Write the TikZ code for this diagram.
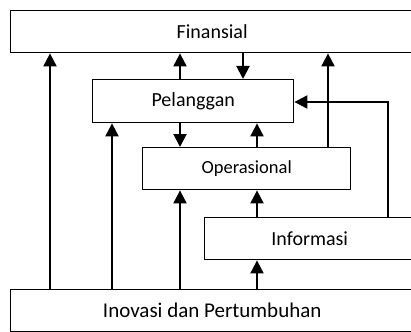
\documentclass[tikz,border=0pt]{standalone}
\usepackage{fontspec}
\setmainfont{Carlito}
\usetikzlibrary{arrows.meta}
\begin{document}
\begin{tikzpicture}[x=1pt,y=-1pt,
  boxstyle/.style={draw, line width=1.4pt, anchor=north west, inner sep=0pt, font=\fontsize{20}{24}\selectfont},
  arr/.style={line width=2pt, -{Triangle[length=13pt,width=13pt]}}]
\useasboundingbox (0,0) rectangle (411,331);
\clip (0,0) rectangle (411,331);
\node[boxstyle, minimum width=403pt, minimum height=42pt] (fin) at (10,10) {Finansial};
\node[boxstyle, minimum width=201pt, minimum height=43pt] (pel) at (92,79) {Pelanggan};
\node[boxstyle, minimum width=208pt, minimum height=42pt, font=\fontsize{18.5}{22}\selectfont] (ops) at (142,147) {Operasional};
\node[boxstyle, minimum width=210pt, minimum height=42pt] (inf) at (204,217) {Informasi};
\node[boxstyle, minimum width=403pt, minimum height=42pt, font=\fontsize{21}{25}\selectfont] (ino) at (10,289) {Inovasi dan Pertumbuhan};
% connectors
\draw[arr] (ino.north -| 50,0) -- (fin.south -| 50,0);
\draw[arr] (pel.north -| 180,0) -- (fin.south -| 180,0);
\draw[arr] (fin.south -| 243,0) -- (pel.north -| 243,0);
\draw[arr] (ops.north -| 328,0) -- (fin.south -| 328,0);
\coordinate (bend) at (388,102);
\draw[arr] (inf.north -| bend) -- (bend) -- (pel.east |- bend);
\draw[arr] (ino.north -| 112,0) -- (pel.south -| 112,0);
\draw[arr] (pel.south -| 180,0) -- (ops.north -| 180,0);
\draw[arr] (ops.north -| 257,0) -- (pel.south -| 257,0);
\draw[arr] (ino.north -| 180,0) -- (ops.south -| 180,0);
\draw[arr] (inf.north -| 257,0) -- (ops.south -| 257,0);
\draw[arr] (ino.north -| 257,0) -- (inf.south -| 257,0);
\end{tikzpicture}
\end{document}
